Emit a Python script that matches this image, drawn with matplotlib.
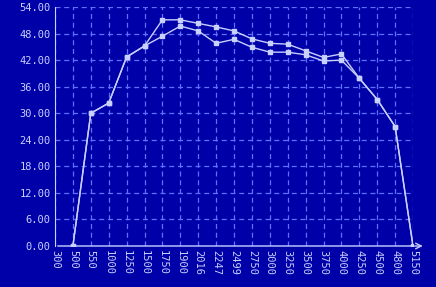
import numpy as np
import matplotlib
matplotlib.use("Agg")
import matplotlib.pyplot as plt

labels = ["300", "500", "550", "1000", "1250", "1500", "1750", "1900", "2016", "2247",
          "2499", "2750", "3000", "3250", "3500", "3750", "4000", "4250", "4500", "4800", "5150"]
upper = [np.nan, 0, 30.0, 32.3, 42.7, 45.2, 51.1, 51.1, 50.3, 49.5, 48.6,
         46.8, 45.8, 45.6, 44.1, 42.6, 43.4, 37.9, 33.1, 27.0, 0]
lower = [np.nan, 0, 30.0, 32.3, 42.7, 45.2, 47.4, 49.7, 48.6, 45.8, 46.7,
         44.9, 43.8, 43.8, 43.2, 41.8, 42.0, 37.9, 33.1, 27.0, 0]
yticks = [0, 6, 12, 18, 24, 30, 36, 42, 48, 54]

bg = "#0000a8"
fg = "#c8d0ff"
grid = "#6070ff"

fig = plt.figure(figsize=(4.36, 2.87), dpi=100, facecolor=bg)
ax = fig.add_axes([55/436, 41/287, 358/436, 239/287], facecolor=bg)

x = np.arange(len(labels))
for s in (upper, lower):
    ax.plot(x, s, color=fg, lw=1, marker="s", ms=3, mfc=fg, mec=fg)

ax.set_xlim(0, len(labels) - 1)
ax.set_ylim(0, 54)
ax.set_xticks(x)
ax.set_xticklabels(labels, rotation=270, family="DejaVu Sans Mono", fontsize=7.5, color=fg)
ax.set_yticks(yticks)
ax.set_yticklabels(["%.2f" % v for v in yticks], family="DejaVu Sans Mono", fontsize=7.5, color=fg)
ax.tick_params(length=0, pad=3)
ax.grid(True, color=grid, ls=(0, (4, 3)), lw=0.9)

for sp in ("top", "right", "bottom"):
    ax.spines[sp].set_visible(False)
ax.spines["left"].set_color(fg)

ax.annotate("", xy=(1.035, 0), xytext=(0, 0), xycoords="axes fraction",
            arrowprops=dict(arrowstyle="->", color=fg, lw=1), annotation_clip=False)

fig.savefig("out.png", dpi=100, facecolor=bg)
